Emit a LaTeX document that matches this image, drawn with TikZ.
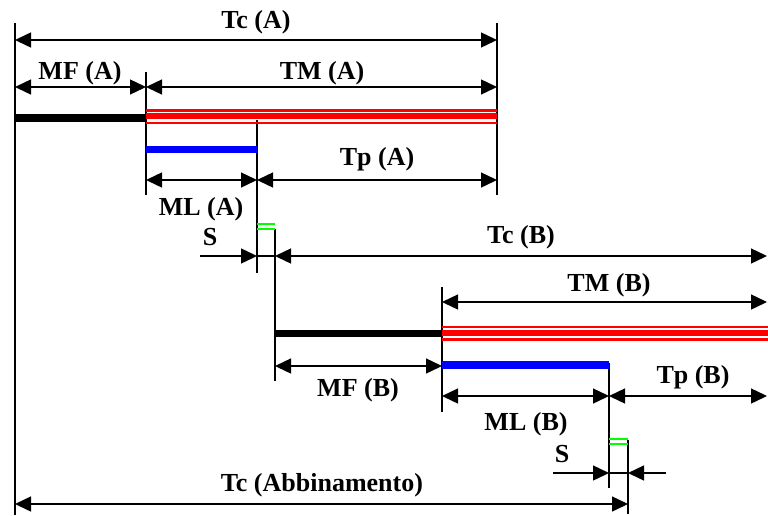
\documentclass[tikz,border=0pt]{standalone}
\usepackage{fontspec}
\setmainfont{Liberation Serif}
\usetikzlibrary{arrows.meta}
\begin{document}
\begin{tikzpicture}[x=1pt,y=-1pt,
  dimline/.style={line width=1.4pt,{Triangle[length=16pt,width=15pt]}-{Triangle[length=16pt,width=15pt]}},
  onearrow/.style={line width=1.4pt,-{Triangle[length=16pt,width=15pt]}},
  plainline/.style={line width=1.4pt},
  extline/.style={line width=1.3pt},
  lbl/.style={font=\fontsize{26}{30}\selectfont\bfseries, inner sep=0pt, anchor=base},
  blackbar/.style={line width=7.5pt, black},
  bluebar/.style={line width=7.5pt, blue},
  greenmark/.style={line width=2pt, green},
  redthin/.style={line width=2.5pt, red},
  redthick/.style={line width=6pt, red}
]
\useasboundingbox (0,0) rectangle (768,515);

% ---------- extension lines ----------
\coordinate (v1t) at (15,23);   \coordinate (v1b) at (15,515);
\coordinate (v2t) at (146,72);  \coordinate (v2b) at (146,195);
\coordinate (v3t) at (497,23);  \coordinate (v3b) at (497,195);
\coordinate (v4t) at (257,120); \coordinate (v4b) at (257,273);
\coordinate (v5t) at (275,229); \coordinate (v5b) at (275,381);
\coordinate (v6t) at (442,287); \coordinate (v6b) at (442,412);
\coordinate (v7t) at (609,363); \coordinate (v7b) at (609,488);
\coordinate (v8t) at (628,440); \coordinate (v8b) at (628,514);
\foreach \v in {1,...,8} \draw[extline] (v\v t) -- (v\v b);

% ---------- bars ----------
\coordinate (kA1) at (15,118);    \coordinate (kA2) at (146,118);
\coordinate (kB1) at (275,333.5); \coordinate (kB2) at (442,333.5);
\draw[blackbar] (kA1) -- (kA2);
\draw[blackbar] (kB1) -- (kB2);

\coordinate (rA1) at (146,110.5); \coordinate (rA2) at (497,110.5);
\coordinate (rA3) at (146,116.3); \coordinate (rA4) at (497,116.3);
\coordinate (rA5) at (146,123);   \coordinate (rA6) at (497,123);
\draw[redthin]  (rA1) -- (rA2);
\draw[redthick] (rA3) -- (rA4);
\draw[redthin]  (rA5) -- (rA6);

\coordinate (rB1) at (442,327.2); \coordinate (rB2) at (768,327.2);
\coordinate (rB3) at (442,333.2); \coordinate (rB4) at (768,333.2);
\coordinate (rB5) at (442,339.7); \coordinate (rB6) at (768,339.7);
\draw[redthin]  (rB1) -- (rB2);
\draw[redthick] (rB3) -- (rB4);
\draw[redthin]  (rB5) -- (rB6);

\coordinate (bA1) at (146,149.5); \coordinate (bA2) at (257,149.5);
\coordinate (bB1) at (442,365);   \coordinate (bB2) at (609,365);
\draw[bluebar] (bA1) -- (bA2);
\draw[bluebar] (bB1) -- (bB2);

\coordinate (gA1) at (257,224.3); \coordinate (gA2) at (275,224.3);
\coordinate (gA3) at (257,229);   \coordinate (gA4) at (275,229);
\coordinate (gB1) at (609,438.5); \coordinate (gB2) at (628,438.5);
\coordinate (gB3) at (609,444);   \coordinate (gB4) at (628,444);
\draw[greenmark] (gA1) -- (gA2);
\draw[greenmark] (gA3) -- (gA4);
\draw[greenmark] (gB1) -- (gB2);
\draw[greenmark] (gB3) -- (gB4);

% ---------- dimension arrows ----------
\coordinate (TcA1) at (15,40);   \coordinate (TcA2) at (497,40);
\coordinate (MFA1) at (15,87);   \coordinate (MFA2) at (146,87);
\coordinate (TMA2) at (497,87);
\coordinate (MLA1) at (146,180); \coordinate (MLA2) at (257,180);
\coordinate (TpA2) at (497,180);
\coordinate (SA0) at (200,256);  \coordinate (SA1) at (257,256); \coordinate (SA2) at (275,256);
\coordinate (TcB2) at (767,256);
\coordinate (TMB1) at (442,302); \coordinate (TMB2) at (767,302);
\coordinate (MFB1) at (275,366); \coordinate (MFB2) at (442,366);
\coordinate (MLB1) at (442,396); \coordinate (MLB2) at (609,396);
\coordinate (TpB2) at (767,396);
\coordinate (SB0) at (553,473);  \coordinate (SB1) at (609,473);
\coordinate (SB2) at (628,473);  \coordinate (SB3) at (666,473);
\coordinate (Tab1) at (15,504);  \coordinate (Tab2) at (628,504);

\draw[dimline] (TcA1) -- (TcA2);
\draw[dimline] (MFA1) -- (MFA2);
\draw[dimline] (MFA2) -- (TMA2);
\draw[dimline] (MLA1) -- (MLA2);
\draw[dimline] (MLA2) -- (TpA2);
\draw[onearrow] (SA0) -- (SA1);
\draw[plainline] (SA1) -- (SA2);
\draw[dimline] (SA2) -- (TcB2);
\draw[dimline] (TMB1) -- (TMB2);
\draw[dimline] (MFB1) -- (MFB2);
\draw[dimline] (MLB1) -- (MLB2);
\draw[dimline] (MLB2) -- (TpB2);
\draw[onearrow] (SB0) -- (SB1);
\draw[plainline] (SB1) -- (SB2);
\draw[onearrow] (SB3) -- (SB2);
\draw[dimline] (Tab1) -- (Tab2);

% ---------- labels ----------
\node[lbl] (lTcA) at (256,28)  {Tc (A)};
\node[lbl] (lMFA) at (80,79)   {MF (A)};
\node[lbl] (lTMA) at (322,79)  {TM (A)};
\node[lbl] (lTpA) at (377,165) {Tp (A)};
\node[lbl] (lMLA) at (201,215) {ML (A)};
\node[lbl] (lSA)  at (210,245) {S};
\node[lbl] (lTcB) at (521,243) {Tc (B)};
\node[lbl] (lTMB) at (609,291) {TM (B)};
\node[lbl] (lTpB) at (693,383) {Tp (B)};
\node[lbl] (lMFB) at (358,396) {MF (B)};
\node[lbl] (lMLB) at (526,430) {ML (B)};
\node[lbl] (lSB)  at (562,462) {S};
\node[lbl] (lTab) at (322,491) {Tc (Abbinamento)};
\end{tikzpicture}
\end{document}
